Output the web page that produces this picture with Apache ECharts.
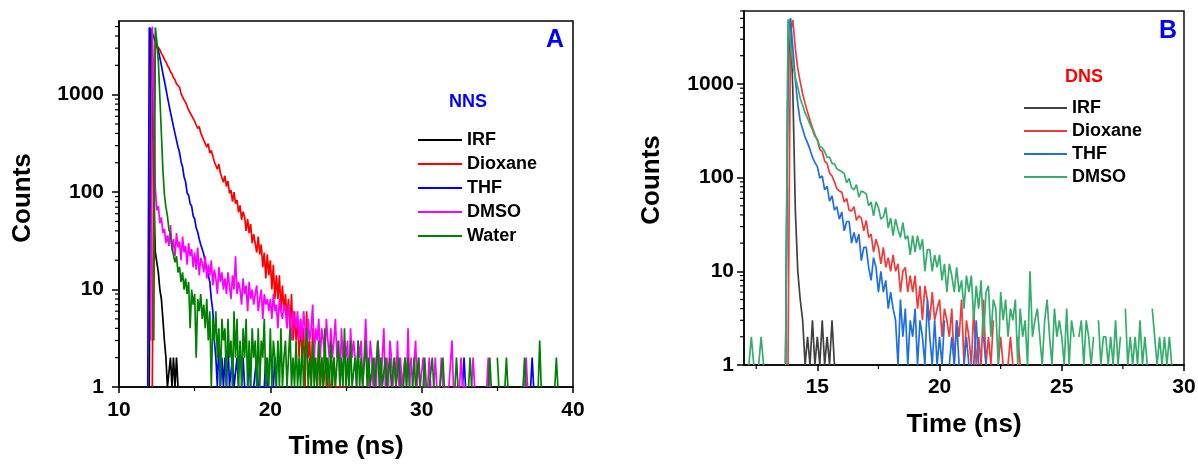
<!DOCTYPE html>
<html><head><meta charset="utf-8">
<script src="https://cdn.jsdelivr.net/npm/echarts@6/dist/echarts.min.js"></script>
<style>html,body{margin:0;padding:0;background:#fff}#c{width:1198px;height:464px}</style>
</head><body><div id="c"></div>
<script>
// ---------------- data ----------------
// time channels (ns): value i sits at T0 + i*DT ; 0 counts = not drawn on the log scale
const A_T0 = 11.8, A_DT = 0.1;
const B_T0 = 12.0, B_DT = 0.1;
const A_XMIN = 10, A_XMAX = 40, A_YMAX = 5700;
const B_XMIN = 12, B_XMAX = 30, B_YMAX = 6000;
const Y_TICKS = [1, 10, 100, 1000];
const B_X_TICKS = [15, 20, 25, 30];
const A_NAMES = ['IRF', 'Dioxane', 'THF', 'DMSO', 'Water'];
const B_NAMES = ['IRF', 'Dioxane', 'THF', 'DMSO'];

// Panel A (NNS)
const A_IRF = [0,0,
 1,4800,1400,90,24,19,15,10,8,5,
 3,2,1,1,2,1,2,1,2,1,
 1];
const A_DIOX = [0,0,
 0,0,1,300,3400,3310,3050,2890,2650,2500,
 2300,2180,1990,1880,1720,1640,1490,1420,1290,1240,
 1192,1025,1043,880,837,851,696,717,610,616,
 534,549,449,471,405,421,341,345,290,314,
 251,267,261,205,213,172,194,157,163,126,
 147,114,130,97,105,80,100,76,83,62,
 73,52,63,56,40,53,38,47,30,37,
 37,24,35,23,29,17,24,13,23,14,
 20,10,18,8,14,8,14,6,11,6,
 9,5,8,4,9,3,6,3,5,2,
 5,2,4,1,6,2,3,1,4,2,
 2,1,3,1,2,1,1,2,1,1,
 1,1,2,1,1,1,1,1,1,1,
 1];
const A_THF = [0,1,
 4900,5000,4300,3900,3500,3150,2850,2400,2000,1650,
 1380,1150,950,790,660,560,470,400,340,290,
 255,205,182,143,128,98,93,76,72,57,
 53,43,39,33,29,26,23,19,16,14,
 12,8,6,3,2,1,3,1,2,1,
 2,1,3,1,1,2,1,1,2,1,
 1,1,2,1,1,1,2,1,1,1,
 1,2,1,1,1,1,1,2,1,1,
 1,1,1,2,1,1,0,0,0,0,
 0,0,0,0,0,0,0,0,0,0, 0,0,0,0,0,0,0,0,0,0, 0,0,0,0,0,0,0,0,0,0,
 0,0,0,0,0,0,0,0,0,0, 0,0,0,0,0,0,0,0,0,0, 0,0,0,0,0,0,0,0,0,0,
 0,0,0,0,0,0,0,0,0,0, 0,0,0,0,0,0,0,0,0,0, 0,0,0,0,0,0,0,0,0,0,
 0,0,0,0,0,0,0,0,0,0, 0,0,0,0,0,0,0,0,0,0,
 0,0,0,0,0,0,0,1,2,1,
 0,0,0,0,0,0,0,0,0,0, 0,0,0,0,0,0,0,0,0,0, 0,0,0,0,0,0,0,0,0,0, 0,0,0,0,0,0,0,0,0,0,
 0,0,1,2,1];
const A_DMSO = [0,0,
 0,3,5000,1200,110,65,72,48,55,38,
 42,30,36,28,46,25,33,22,38,27,
 31,20,35,24,28,18,30,22,26,17,
 24,16,27,14,21,19,15,22,13,18,
 14,20,11,16,13,9,17,12,15,10,
 13,9,15,11,8,14,10,22,9,12,
 10,7,13,9,11,6,12,8,10,7,
 9,11,6,8,10,5,9,7,8,6,
 8,5,9,6,7,4,8,6,5,7,
 6,4,7,5,3,6,5,4,6,3,
 5,3,6,4,2,5,3,4,7,2,
 4,3,5,2,4,3,2,5,3,2,
 4,2,3,5,2,3,1,4,2,3,
 2,3,1,4,2,3,2,1,3,2,
 3,1,2,5,2,1,3,2,1,2,
 1,3,2,1,2,4,1,2,1,3,
 2,1,2,1,3,1,2,1,1,2,
 1,4,1,2,1,1,3,1,2,1,
 1,2,1,1,1,2,1,1,1,2,
 1,1,1,2,1,1,1,1,1,1,
 3,1,1,1,1,1,2,1,1,1,
 1,0,0,1,2,1,0,0,0,0,
 0,0,0,1,2,1,0,0,0,0,
 0,0,0,0,0,0,0,0,0,0,
 0,0,0,0,0,0,0,0,1,2,
 1];
const A_WATER = [0,0,
 0,0,0,3,4900,3500,2200,950,400,170,
 95,70,57,41,37,27,28,19,22,15,
 17,12,15,10,13,9,12,4,10,7,
 9,2,8,6,9,5,7,4,8,3,
 6,1,5,3,6,2,4,1,5,3,
 4,1,5,2,3,1,6,2,5,1,
 3,1,4,2,5,1,3,1,4,2,
 3,1,4,1,3,2,5,1,2,1,
 4,1,3,2,1,3,1,4,1,2,
 3,1,2,4,1,2,1,3,1,2,
 1,3,1,2,4,1,2,1,3,1,
 2,1,3,1,2,1,4,1,2,1,
 3,1,2,1,1,3,1,2,1,4,
 1,2,1,3,1,1,2,1,3,1,
 2,1,1,3,1,2,1,1,2,1,
 1,3,1,2,1,1,2,1,1,2,
 1,1,2,1,1,2,1,1,1,2,
 1,2,1,1,1,2,1,1,2,1,
 1,1,2,1,1,1,1,2,1,1,
 1,1,1,1,2,1,1,1,1,0,
 0,0,1,2,1,0,0,0,0,0,
 0,1,2,1,0,0,0,0,0,0,
 0,0,0,0,1,2,1,0,0,0,
 2,1,0,0,0,1,2,1,0,0,
 0,0,0,0,0,0,0,1,2,1,
 0,0,0,0,0,0,0,1,3,1,
 0,0,0,0,0,0,0,0,1,2,
 1];

// Panel B (DNS)
const B_IRF = [0,0,0,0,0,0,0,0,0,0,
 0,0,0,0,0,0,0,1,1200,5000,
 800,45,10,5,3,1,2,1,3,1,
 2,1,3,1,2,1,3,1];
const B_DIOX = [0,0,0,0,0,0,0,0,0,0,
 0,0,0,0,0,0,0,0,1,3500,
 4800,2400,1450,1050,780,620,500,410,340,290,
 250,200,190,150,142,112,104,90,76,72,
 70,55,60,45,44,49,35,39,37,27,
 35,23,25,16,22,18,12,18,11,14,
 10,15,10,12,6,10,11,6,9,6,
 9,4,7,3,7,5,3,6,3,4,
 5,2,4,3,2,4,1,3,2,5,
 1,3,2,1,4,1,2,1,5,1,
 2,1,3,0,1,2,1,0,1,2,
 1,0,2,1,0];
const B_THF = [0,0,0,0,0,0,0,0,0,0,
 0,0,0,0,0,0,0,1,2500,5000,
 2400,1100,610,400,330,270,235,200,165,145,
 131,99,104,74,81,56,64,45,49,36,
 43,27,34,34,20,26,20,25,13,18,
 18,11,8,14,11,6,10,6,8,4,
 6,4,3,1,5,2,4,1,3,2,
 4,1,3,2,1,5,2,1,3,1,
 2,1,3,0,1,2,1,3,1,0,
 1,2,1,0,1,3,1,0,2,1];
const B_DMSO = [0,0,1,2,1,0,1,2,1,0,
 0,0,0,0,0,0,0,1,4900,2800,
 1600,1180,930,700,590,490,430,370,325,275,
 258,214,208,190,164,166,142,140,124,120,
 116,110,88,98,78,74,84,62,72,70,
 67,50,55,39,55,48,36,38,48,29,
 37,24,36,28,23,33,22,24,15,24,
 16,24,17,22,10,17,17,10,15,11,
 15,8,12,6,12,9,6,11,6,8,
 4,9,6,9,3,7,4,8,2,6,
 7,2,5,4,1,6,3,5,2,4,
 3,5,1,4,2,3,1,10,2,3,
 4,2,1,3,5,2,1,4,2,3,
 2,1,4,1,3,2,0,2,3,1,
 3,2,1,2,0,3,1,2,2,1,
 2,1,3,1,2,0,4,1,2,1,
 2,1,3,1,2,1,0,4,2,1,
 2,1,2,1,2,1];

// ---------------- chart ----------------
const FONT = '"Liberation Sans", Arial, Helvetica, sans-serif';
const A_COLORS = ['#000000', '#ff0000', '#0000ff', '#ff00ff', '#008000'];
const B_COLORS = ['#404040', '#ef3b3b', '#1f6fe3', '#36ad6d'];
const A_SETS = [A_IRF, A_DIOX, A_THF, A_DMSO, A_WATER];
const B_SETS = [B_IRF, B_DIOX, B_THF, B_DMSO];

function toData(t0, dt, arr) {
  return arr.map((v, i) => [+(t0 + i * dt).toFixed(2), v > 0 ? v : '-']);
}
function minorLogValues(max) {
  const out = [];
  for (let d = 1; d <= 1000; d *= 10) for (let m = 2; m <= 9; m++) if (m * d <= max) out.push(m * d);
  return out;
}
const lineSeries = (panel, names, sets, colors, t0, dt, gi) => names.map((n, i) => ({
  type: 'line', name: panel + ':' + n, xAxisIndex: gi, yAxisIndex: gi,
  data: toData(t0, dt, sets[i]), showSymbol: false, symbol: 'none',
  lineStyle: { width: 1.7, color: colors[i] }, itemStyle: { color: colors[i] },
  emphasis: { disabled: true }, animation: false, z: 2
}));
const yMinorTicks = (gi, xmin, max) => ({
  type: 'custom', xAxisIndex: gi, yAxisIndex: gi, silent: true, clip: false, z: 5,
  data: minorLogValues(max).map(v => [xmin, v]),
  renderItem: (p, api) => {
    const c = api.coord([api.value(0), api.value(1)]);
    return { type: 'line', shape: { x1: c[0] - 4, y1: c[1], x2: c[0], y2: c[1] }, style: { stroke: '#000', lineWidth: 1.2 } };
  }
});
const xMinorTicksB = {
  type: 'custom', xAxisIndex: 1, yAxisIndex: 1, silent: true, clip: false, z: 5,
  data: B_X_TICKS.map(t => [t - 2.5, 1]),
  renderItem: (p, api) => {
    const c = api.coord([api.value(0), api.value(1)]);
    return { type: 'line', shape: { x1: c[0], y1: c[1], x2: c[0], y2: c[1] + 4 }, style: { stroke: '#000', lineWidth: 1.2 } };
  }
};

const labelStyle = { fontSize: 21, fontWeight: 'bold', color: '#000', fontFamily: FONT };
const axisLine = { show: true, onZero: false, lineStyle: { color: '#000', width: 1.5 } };

const option = {
  animation: false,
  backgroundColor: '#fff',
  grid: [
    { left: 119, top: 21, width: 454, height: 366, show: true, borderColor: '#000', borderWidth: 1.5, backgroundColor: 'transparent', outerBoundsMode: 'none' },
    { left: 744, top: 11, width: 440, height: 354, show: true, borderColor: '#111', borderWidth: 1.5, backgroundColor: 'transparent', outerBoundsMode: 'none' }
  ],
  xAxis: [
    { gridIndex: 0, type: 'value', min: A_XMIN, max: A_XMAX, interval: 10,
      axisLine, axisTick: { show: true, inside: false, length: 6, lineStyle: { color: '#000', width: 1.5 } },
      minorTick: { show: true, splitNumber: 2, length: 4, lineStyle: { color: '#000', width: 1.2 } },
      splitLine: { show: false }, minorSplitLine: { show: false },
      axisLabel: Object.assign({ margin: 13 }, labelStyle) },
    { gridIndex: 1, type: 'value', min: B_XMIN, max: B_XMAX,
      axisLine, axisTick: { show: true, inside: false, length: 6, customValues: B_X_TICKS, lineStyle: { color: '#000', width: 1.5 } },
      splitLine: { show: false },
      axisLabel: Object.assign({ margin: 12, customValues: B_X_TICKS }, labelStyle) }
  ],
  yAxis: [
    { gridIndex: 0, type: 'log', logBase: 10, min: 1, max: A_YMAX,
      axisLine, axisTick: { show: true, inside: false, length: 7, customValues: Y_TICKS, lineStyle: { color: '#000', width: 1.5 } },
      splitLine: { show: false },
      axisLabel: Object.assign({ margin: 15, customValues: Y_TICKS, formatter: v => String(Math.round(v)) }, labelStyle) },
    { gridIndex: 1, type: 'log', logBase: 10, min: 1, max: B_YMAX,
      axisLine, axisTick: { show: true, inside: false, length: 7, customValues: Y_TICKS, lineStyle: { color: '#000', width: 1.5 } },
      splitLine: { show: false },
      axisLabel: Object.assign({ margin: 10, customValues: Y_TICKS, formatter: v => String(Math.round(v)) }, labelStyle) }
  ],
  legend: [
    { data: A_NAMES.map(n => 'A:' + n), orient: 'vertical', left: 418, top: 130, padding: 0,
      itemWidth: 44, itemHeight: 2, icon: 'rect', itemGap: 4, selectedMode: false,
      formatter: n => n.slice(2),
      textStyle: { fontSize: 18, fontWeight: 'bold', color: '#000', fontFamily: FONT, lineHeight: 20 } },
    { data: B_NAMES.map(n => 'B:' + n), orient: 'vertical', left: 1024, top: 98, padding: 0,
      itemWidth: 43, itemHeight: 2, icon: 'rect', itemGap: 3, selectedMode: false,
      formatter: n => n.slice(2),
      textStyle: { fontSize: 18, fontWeight: 'bold', color: '#000', fontFamily: FONT, lineHeight: 20 } }
  ],
  graphic: [
    { type: 'text', x: 555, y: 40, style: { text: 'A', fill: '#0000ff', font: 'bold 25px ' + FONT, align: 'center', verticalAlign: 'middle' } },
    { type: 'text', x: 1168, y: 31, style: { text: 'B', fill: '#0000ff', font: 'bold 25px ' + FONT, align: 'center', verticalAlign: 'middle' } },
    { type: 'text', x: 468, y: 102, style: { text: 'NNS', fill: '#0000ff', font: 'bold 18px ' + FONT, align: 'center', verticalAlign: 'middle' } },
    { type: 'text', x: 1084, y: 77, style: { text: 'DNS', fill: '#ff0000', font: 'bold 18px ' + FONT, align: 'center', verticalAlign: 'middle' } },
    { type: 'text', x: 346, y: 447, style: { text: 'Time (ns)', fill: '#000', font: 'bold 26px ' + FONT, align: 'center', verticalAlign: 'middle' } },
    { type: 'text', x: 964, y: 425, style: { text: 'Time (ns)', fill: '#000', font: 'bold 26px ' + FONT, align: 'center', verticalAlign: 'middle' } },
    { type: 'text', x: 23, y: 198, rotation: Math.PI / 2, style: { text: 'Counts', fill: '#000', font: 'bold 26px ' + FONT, align: 'center', verticalAlign: 'middle' } },
    { type: 'text', x: 652, y: 180, rotation: Math.PI / 2, style: { text: 'Counts', fill: '#000', font: 'bold 26px ' + FONT, align: 'center', verticalAlign: 'middle' } }
  ],
  series: [].concat(
    lineSeries('A', A_NAMES, A_SETS, A_COLORS, A_T0, A_DT, 0),
    lineSeries('B', B_NAMES, B_SETS, B_COLORS, B_T0, B_DT, 1),
    [yMinorTicks(0, A_XMIN, A_YMAX), yMinorTicks(1, B_XMIN, B_YMAX), xMinorTicksB]
  )
};
const chart = echarts.init(document.getElementById('c'), null, { renderer: 'canvas' });
chart.setOption(option);
</script>
</body></html>
